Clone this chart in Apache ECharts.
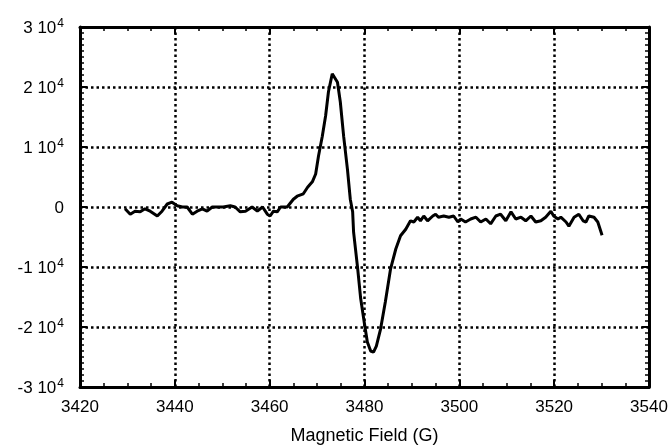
<!DOCTYPE html>
<html><head><meta charset="utf-8">
<script src="https://cdn.jsdelivr.net/npm/echarts@6/dist/echarts.min.js"></script>
<style>html,body{margin:0;padding:0;background:#fff}#c{width:669px;height:447px}</style>
</head><body><div id="c"></div>
<script>
// Magnetic field (G)
const fieldG = [3429.5,3430.6,3431.6,3432.7,3433.7,3434.8,3436.3,3437.3,3438.4,3439.4,3440.5,3441.6,3442.6,3443.7,3444.7,3445.8,3446.8,3447.9,3448.9,3450.2,3451.7,3452.7,3453.8,3454.9,3456.3,3457.4,3458.5,3459.5,3460.1,3460.8,3461.6,3462.3,3463.7,3465.0,3465.8,3467.1,3468.0,3469.0,3469.7,3470.3,3471.1,3471.8,3472.4,3473.2,3473.5,3474.3,3474.9,3475.6,3476.4,3477.0,3477.5,3477.7,3478.5,3479.2,3480.0,3480.6,3481.3,3481.9,3482.5,3483.4,3484.4,3485.5,3486.6,3487.6,3488.7,3489.7,3490.4,3491.2,3491.8,3492.5,3493.3,3494.4,3495.0,3495.6,3496.7,3497.8,3498.8,3499.7,3500.3,3501.3,3502.4,3503.5,3504.5,3505.6,3506.6,3507.7,3508.7,3509.8,3510.9,3511.9,3513.0,3514.0,3515.1,3516.1,3517.2,3518.2,3519.3,3519.9,3520.8,3521.4,3522.5,3523.1,3524.2,3525.2,3526.1,3526.7,3527.3,3528.4,3529.2,3529.9,3530.1];
// EPR signal
const signal = [-300,-1200,-700,-800,-300,-700,-1500,-700,500,800,200,0,0,-1200,-700,-300,-700,0,0,0,200,0,-800,-700,0,-700,0,-1200,-1500,-700,-800,0,0,1300,1800,2200,3300,4200,5500,8500,11800,15200,19200,22200,22500,20800,17500,11800,6300,1300,-800,-4200,-9800,-15300,-19500,-22500,-24000,-24200,-23200,-20300,-15800,-10300,-7000,-4800,-3700,-2300,-2500,-1700,-2300,-1500,-2300,-1500,-1200,-1700,-1500,-1700,-1500,-2500,-2000,-2500,-2000,-1700,-2500,-2000,-2800,-1500,-1200,-2300,-800,-2000,-1700,-2300,-1500,-2500,-2300,-1700,-700,-1500,-2000,-1700,-2500,-3200,-1700,-1200,-2300,-2500,-1500,-1700,-2500,-4200,-4700];
const xTicks = [3420,3440,3460,3480,3500,3520,3540];
const yTicks = [-30000,-20000,-10000,0,10000,20000,30000];

const FONT = 'Liberation Sans, Arial, sans-serif';
const data = fieldG.map((x,i)=>[x, signal[i]]);
const chart = echarts.init(document.getElementById('c'), null, {renderer:'canvas'});
const dotted = {show:true, lineStyle:{color:'#000', type:[2.5,3], width:2.5}};
const baseAxisLine = {show:true, onZero:false, lineStyle:{color:'#000', width:3}};
const tick = {show:true, inside:true, length:7, lineStyle:{color:'#000', width:2}};
chart.setOption({
  animation:false,
  backgroundColor:'#fff',
  grid:{left:80, right:20, top:27, bottom:60, containLabel:false, outerBoundsMode:'none'},
  xAxis:[{
    type:'value', min:xTicks[0], max:xTicks[xTicks.length-1], interval:20,
    name:'Magnetic Field (G)', nameLocation:'middle', nameGap:40,
    nameTextStyle:{color:'#000', fontSize:18, fontFamily:FONT},
    axisLine:baseAxisLine, axisTick:tick,
    minorTick:{show:true, splitNumber:4, length:4, lineStyle:{color:'#000', width:1.5}},
    axisLabel:{color:'#000', fontSize:17, fontFamily:FONT, margin:12, formatter:v=>String(v)},
    splitLine:dotted
  },{
    type:'value', position:'top', min:xTicks[0], max:xTicks[xTicks.length-1], interval:20,
    axisLine:baseAxisLine, axisTick:tick,
    minorTick:{show:true, splitNumber:4, length:4, lineStyle:{color:'#000', width:1.5}},
    axisLabel:{show:false}, splitLine:{show:false}
  }],
  yAxis:[{
    type:'value', min:yTicks[0], max:yTicks[yTicks.length-1], interval:10000,
    axisLine:baseAxisLine, axisTick:tick,
    minorTick:{show:true, splitNumber:10, length:4, lineStyle:{color:'#000', width:1.5}},
    axisLabel:{color:'#000', fontSize:17, fontFamily:FONT, margin:16,
      formatter:function(v){ if(v===0) return '{b|0}'; return '{b|'+(v/10000)+' 10}{s|4}'; },
      rich:{b:{fontSize:17, fontFamily:FONT, color:'#000', verticalAlign:'bottom', lineHeight:19},
            s:{fontSize:12, fontFamily:FONT, color:'#000', verticalAlign:'top', lineHeight:19, padding:[0,0,8,1]}}},
    splitLine:dotted
  },{
    type:'value', position:'right', min:yTicks[0], max:yTicks[yTicks.length-1], interval:10000,
    axisLine:baseAxisLine, axisTick:tick,
    minorTick:{show:true, splitNumber:10, length:4, lineStyle:{color:'#000', width:1.5}},
    axisLabel:{show:false}, splitLine:{show:false}
  }],
  series:[{
    type:'line', data:data, showSymbol:false, symbol:'none',
    lineStyle:{color:'#000', width:3}, z:5
  }]
});
</script>
</body></html>
